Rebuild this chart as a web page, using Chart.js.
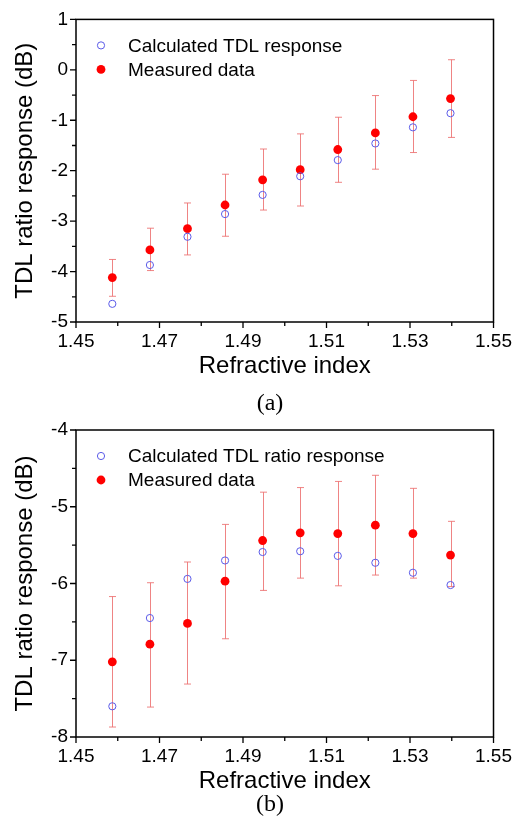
<!DOCTYPE html>
<html>
<head>
<meta charset="utf-8">
<script src="https://cdn.jsdelivr.net/npm/chart.js@4.4.1/dist/chart.umd.min.js"></script>
<style>
  html, body { margin: 0; padding: 0; background: #fff; }
  body { width: 520px; height: 823px; position: relative; overflow: hidden; }
  canvas { position: absolute; left: 0; }
  #cA { top: 0; }
  #cB { top: 395px; }
  .cap { position: absolute; width: 540px; left: 0; text-align: center; font-family: 'Liberation Serif', 'DejaVu Serif', serif; font-size: 24px; color: #000; line-height: 24px; }
</style>
</head>
<body>
<canvas id="cA" width="520" height="390"></canvas>
<canvas id="cB" width="520" height="428"></canvas>
<div class="cap" style="top:390px;">(a)</div>
<div class="cap" style="top:791px;">(b)</div>
<script>
// ---- data ----
const refractiveIndex = [1.4587, 1.4677, 1.4767, 1.4857, 1.4947, 1.5037, 1.5127, 1.5217, 1.5307, 1.5397];

const calcA   = [-4.64, -3.87, -3.31, -2.86, -2.48, -2.11, -1.79, -1.46, -1.14, -0.86];
const measA   = [-4.12, -3.57, -3.15, -2.68, -2.18, -1.98, -1.58, -1.25, -0.93, -0.57];
const errHiA  = [-3.76, -3.14, -2.64, -2.07, -1.57, -1.27, -0.94, -0.51, -0.21, 0.20];
const errLoA  = [-4.49, -3.98, -3.67, -3.30, -2.78, -2.70, -2.23, -1.97, -1.64, -1.34];

const calcB   = [-7.60, -6.45, -5.94, -5.70, -5.59, -5.58, -5.64, -5.73, -5.86, -6.02];
const measB   = [-7.02, -6.79, -6.52, -5.97, -5.44, -5.34, -5.35, -5.24, -5.35, -5.63];
const errHiB  = [-6.17, -5.99, -5.72, -5.23, -4.81, -4.75, -4.67, -4.59, -4.76, -5.19];
const errLoB  = [-7.87, -7.61, -7.31, -6.72, -6.09, -5.93, -6.03, -5.89, -5.93, -6.04];

const xTickRange = [1.45, 1.55];
const yRangeA = [-5, 1];
const yRangeB = [-8, -4];
const labelsA = ['Calculated TDL response', 'Measured data'];
const labelsB = ['Calculated TDL ratio response', 'Measured data'];
const xTitle = 'Refractive index';
const yTitle = 'TDL ratio response (dB)';

// ---- styles ----
const FONT = "'Liberation Sans', Arial, sans-serif";
const BLUE = '#5b5be8';
const RED = '#ff0000';
const ERR = 'rgba(236,110,110,0.85)';

const framePlugin = {
  id: 'frameTicks',
  beforeDatasetsDraw(chart) {
    const ctx = chart.ctx, xs = chart.scales.x, ys = chart.scales.y;
    const eb = chart.options.plugins.frameTicks;
    ctx.save();
    ctx.strokeStyle = ERR;
    ctx.lineWidth = 1;
    for (let i = 0; i < eb.xv.length; i++) {
      const px = Math.round(xs.getPixelForValue(eb.xv[i])) + 0.5;
      const y1 = ys.getPixelForValue(eb.hi[i]);
      const y2 = ys.getPixelForValue(eb.lo[i]);
      ctx.beginPath();
      ctx.moveTo(px, y1); ctx.lineTo(px, y2);
      ctx.moveTo(px - 3.5, y1); ctx.lineTo(px + 3.5, y1);
      ctx.moveTo(px - 3.5, y2); ctx.lineTo(px + 3.5, y2);
      ctx.stroke();
    }
    ctx.restore();
  },
  afterDraw(chart) {
    const ctx = chart.ctx, a = chart.chartArea;
    const xs = chart.scales.x, ys = chart.scales.y;
    ctx.save();
    ctx.strokeStyle = '#000';
    ctx.lineWidth = 1.5;
    ctx.strokeRect(a.left, a.top, a.right - a.left, a.bottom - a.top);
    ctx.lineWidth = 1.3;
    ctx.beginPath();
    xs.ticks.forEach(t => {
      const px = xs.getPixelForValue(t.value);
      const len = t.label !== '' ? 6 : 4;
      ctx.moveTo(px, a.bottom); ctx.lineTo(px, a.bottom + len);
    });
    ys.ticks.forEach(t => {
      const py = ys.getPixelForValue(t.value);
      const len = t.label !== '' ? 6 : 4;
      ctx.moveTo(a.left, py); ctx.lineTo(a.left - len, py);
    });
    ctx.stroke();
    // legend
    const ds = chart.data.datasets;
    const lx = a.left + 25;
    ctx.font = '19px ' + FONT;
    ctx.textBaseline = 'middle';
    ctx.fillStyle = '#000';
    ds.forEach((d, i) => {
      const ly = a.top + 26 + i * 24;
      ctx.beginPath();
      ctx.arc(lx, ly, d.pointRadius, 0, Math.PI * 2);
      if (d.backgroundColor !== 'transparent') { ctx.fillStyle = d.backgroundColor; ctx.fill(); }
      if (d.borderWidth > 0) { ctx.strokeStyle = d.borderColor; ctx.lineWidth = d.borderWidth; ctx.stroke(); }
      ctx.fillStyle = '#000';
      ctx.fillText(d.label, lx + 27, ly + 1);
    });
    ctx.restore();
  }
};

function pts(xv, yv) { return xv.map((x, i) => ({ x: x, y: yv[i] })); }

function makeChart(id, calc, meas, hi, lo, yr, labels, padTop, yAreaW, xAreaH, xTitlePad) {
  return new Chart(document.getElementById(id), {
    type: 'scatter',
    data: {
      datasets: [
        { label: labels[0], data: pts(refractiveIndex, calc), pointRadius: 3.6, pointHoverRadius: 3.6,
          backgroundColor: 'transparent', borderColor: BLUE, borderWidth: 1, pointBorderWidth: 1 },
        { label: labels[1], data: pts(refractiveIndex, meas), pointRadius: 4.4, pointHoverRadius: 4.4,
          backgroundColor: RED, borderColor: RED, borderWidth: 0 }
      ]
    },
    options: {
      responsive: false, animation: false, devicePixelRatio: 1,
      layout: { padding: { left: 0, right: 26, top: padTop, bottom: 0 } },
      plugins: {
        legend: { display: false }, tooltip: { enabled: false },
        frameTicks: { xv: refractiveIndex, hi: hi, lo: lo }
      },
      scales: {
        x: {
          type: 'linear', min: xTickRange[0], max: xTickRange[1],
          border: { display: false },
          grid: { display: true, drawOnChartArea: false, drawTicks: false },
          ticks: {
            stepSize: 0.01, autoSkip: false, maxRotation: 0, padding: 8,
            color: '#000', font: { family: FONT, size: 19 },
            callback: v => { const k = Math.round(v * 100); return (k % 2 === 1) ? (k / 100).toFixed(2) : ''; }
          },
          title: { display: true, text: xTitle, color: '#000', font: { family: FONT, size: 24 }, padding: { top: 0, bottom: xTitlePad } },
          afterFit: s => { s.height = xAreaH; }
        },
        y: {
          type: 'linear', min: yr[0], max: yr[1],
          border: { display: false },
          grid: { display: true, drawOnChartArea: false, drawTicks: false },
          ticks: {
            stepSize: 0.5, autoSkip: false, padding: 8,
            color: '#000', font: { family: FONT, size: 19 },
            callback: v => { const r = Math.round(v * 2) / 2; return Number.isInteger(r) ? String(r) : ''; }
          },
          title: { display: true, text: yTitle, color: '#000', font: { family: FONT, size: 24 }, padding: { top: 11, bottom: 0 } },
          afterFit: s => { s.width = yAreaW; }
        }
      }
    },
    plugins: [framePlugin]
  });
}

makeChart('cA', calcA, measA, errHiA, errLoA, yRangeA, labelsA, 15, 76, 68, 9);
makeChart('cB', calcB, measB, errHiB, errLoB, yRangeB, labelsB, 35, 76, 86, 27);
</script>
</body>
</html>
